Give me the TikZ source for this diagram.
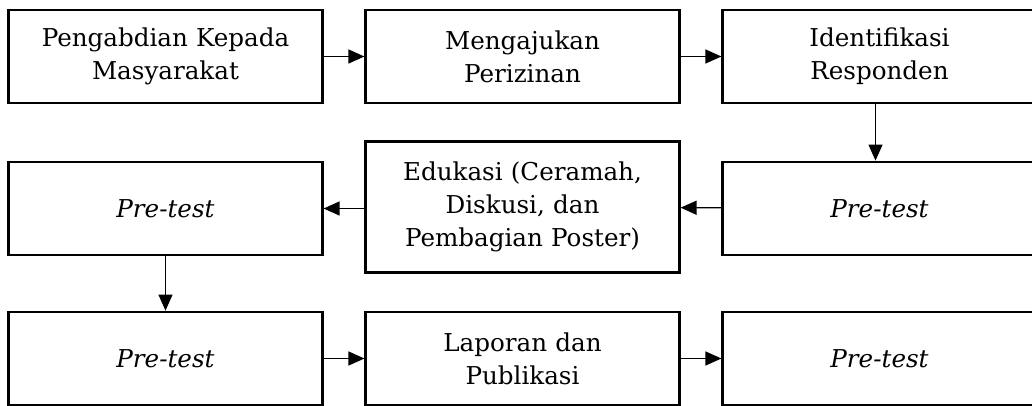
\documentclass[tikz,border=0pt]{standalone}
\usepackage{fontspec}
\setmainfont{DejaVu Serif}
\usepackage{tikz}
\usetikzlibrary{arrows.meta}
\tikzstyle{stage} = [rectangle, 
minimum width=156.5pt, 
minimum height=46.5pt,
text centered, 
text width=150pt, 
line width=1.4pt,
draw=black, 
font=\fontsize{12.3}{16.5}\selectfont]
\tikzstyle{stagetall} = [stage, 
minimum height=65.5pt]
\tikzstyle{arrow} = [line width=0.6pt,-{Triangle[length=8pt,width=7pt]}]

\begin{document}
\begin{tikzpicture}[node distance=178.5pt]

\useasboundingbox (0,0) rectangle (516pt,-203pt);

\node (pkm) [stage] at (82.75pt,-28.25pt) {Pengabdian Kepada\\Masyarakat};
\node (izin) [stage, right of=pkm] {Mengajukan\\Perizinan};
\node (identifikasi) [stage, right of=izin] {Identifikasi\\Responden};

\node (pre_a) [stage, below of=identifikasi, node distance=76pt] {\textit{Pre-test}};
\node (edukasi) [stagetall, left of=pre_a, yshift=0.75pt] {Edukasi (Ceramah,\\Diskusi, dan\\Pembagian Poster)};
\node (pre_b) [stage, left of=pre_a, xshift=-178.5pt] {\textit{Pre-test}};

\node (pre_c) [stage, below of=pre_b, node distance=75pt] {\textit{Pre-test}};
\node (laporan) [stage, right of=pre_c] {Laporan dan\\Publikasi};
\node (pre_d) [stage, right of=laporan] {\textit{Pre-test}};

\draw [arrow] (pkm) -- (izin);
\draw [arrow] (izin) -- (identifikasi);
\draw [arrow] (identifikasi.south -| pre_a) ++(-2pt,0) coordinate (id_out) -- (id_out |- pre_a.north);
\draw [arrow] (pre_a) -- (edukasi);
\draw [arrow] (edukasi.west |- pre_b) -- (pre_b);
\draw [arrow] (pre_b) -- (pre_c);
\draw [arrow] (pre_c) -- (laporan);
\draw [arrow] (laporan) -- (pre_d);

\end{tikzpicture}
\end{document}
